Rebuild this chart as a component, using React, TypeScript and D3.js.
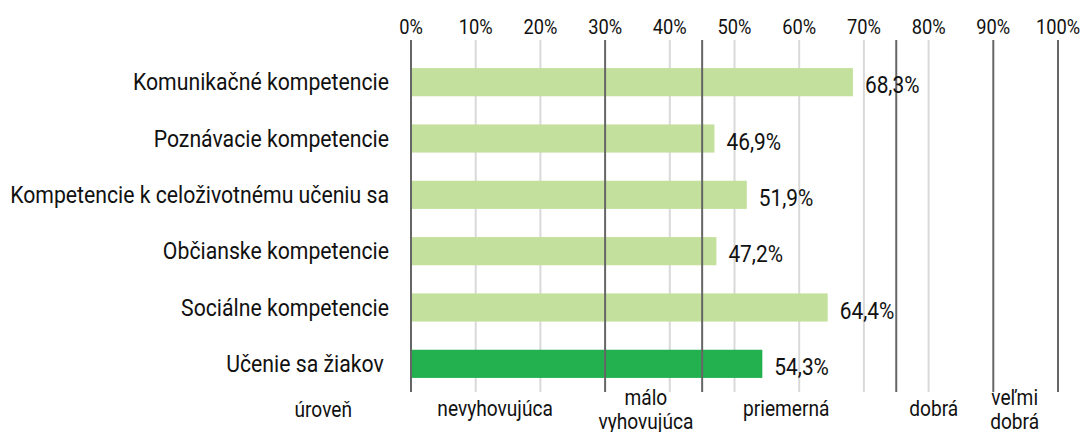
import React from 'react';
import * as d3 from 'd3';

const categories = [
  'Komunikačné kompetencie',
  'Poznávacie kompetencie',
  'Kompetencie k celoživotnému učeniu sa',
  'Občianske kompetencie',
  'Sociálne kompetencie',
  'Učenie sa žiakov ',
];
const values = [68.3, 46.9, 51.9, 47.2, 64.4, 54.3];
const highlighted = [false, false, false, false, false, true];

const ticks = [0, 10, 20, 30, 40, 50, 60, 70, 80, 90, 100];
const levelBounds = [0, 30, 45, 75, 90, 100];
const levelNames = [['nevyhovujúca'], ['málo', 'vyhovujúca'], ['priemerná'], ['dobrá'], ['veľmi', 'dobrá']];
const levelLabelAt = [13, 36.3, 58, 80.8, 93.3];
const levelTitle = 'úroveň';

const W = 1083;
const H = 432;
const SX = 0.87; // condensed look
const FONT = 'Roboto, sans-serif';

const T = ({ x, y, anchor = 'middle', size = 19, children }: any) => (
  <text
    transform={`translate(${x},${y}) scale(${SX},1)`}
    textAnchor={anchor}
    fontSize={size}
    fontFamily={FONT}
    fill="#111"
    style={{ whiteSpace: 'pre' }}
  >
    {children}
  </text>
);

export default function App() {
  const x = d3.scaleLinear().domain([0, 100]).range([411, 1058]);
  const y = d3.scaleBand().domain(categories).range([54, 392]).paddingInner(0.5).paddingOuter(0.25);
  const fmt = (v: number) => v.toFixed(1).replace('.', ',') + '%';

  return (
    <svg width={W} height={H} style={{ position: 'absolute', left: 0, top: 0 }}>
      {ticks.filter(t => !levelBounds.includes(t)).map(t => (
        <line key={t} x1={x(t)} x2={x(t)} y1={40} y2={392} stroke="#d9d9d9" strokeWidth={2} />
      ))}
      {categories.map((c, i) => (
        <rect
          key={c}
          x={x(0)}
          y={y(c)!}
          width={x(values[i]) - x(0)}
          height={y.bandwidth()}
          fill={highlighted[i] ? '#22b14e' : '#c3e09d'}
        />
      ))}
      {levelBounds.map(t => (
        <line key={t} x1={x(t)} x2={x(t)} y1={40} y2={392} stroke="#666" strokeWidth={2} />
      ))}
      {ticks.map(t => (
        <T key={t} x={x(t)} y={34} size={21}>{t}%</T>
      ))}
      {categories.map((c) => (
        <T key={c} x={389} y={y(c)! + y.bandwidth() / 2 + 8} anchor="end" size={24.4}>{c}</T>
      ))}
      {categories.map((c, i) => (
        <T key={c} x={x(values[i]) + 12} y={y(c)! + y.bandwidth() / 2 + 11} anchor="start" size={24}>{fmt(values[i])}</T>
      ))}
      <T x={352} y={417} anchor="end" size={22}>{levelTitle}</T>
      {levelNames.map((lines, i) => {
        const mid = x(levelLabelAt[i]);
        return lines.length === 1 ? (
          <T key={i} x={mid} y={416} size={22}>{lines[0]}</T>
        ) : (
          <g key={i}>
            <T x={mid} y={405} size={22}>{lines[0]}</T>
            <T x={mid} y={429} size={22}>{lines[1]}</T>
          </g>
        );
      })}
    </svg>
  );
}
